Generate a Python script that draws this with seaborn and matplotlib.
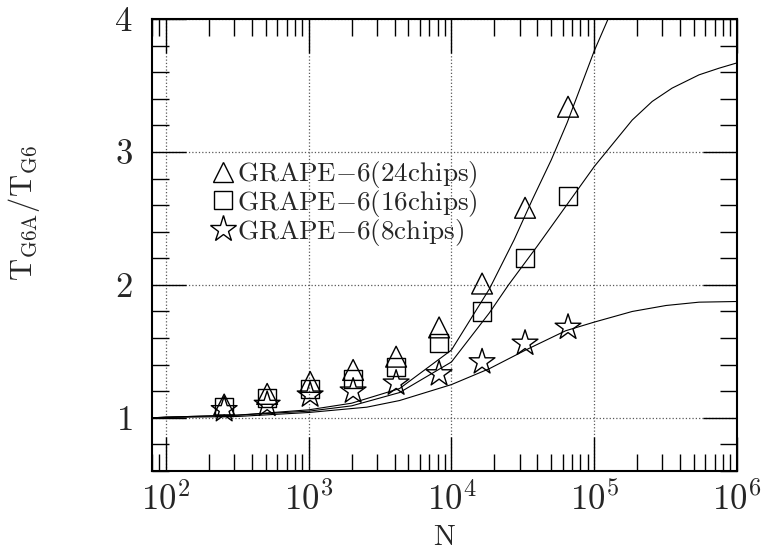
import matplotlib
matplotlib.use("Agg")
import matplotlib.pyplot as plt
import seaborn as sns
from matplotlib.lines import Line2D
from matplotlib.ticker import LogLocator, MultipleLocator, NullFormatter, FixedLocator

# medidas: numero de particulas y cociente de tiempos
n_medidas = [256, 512, 1024, 2048, 4096, 8192, 16384, 32768, 65536]
ratio_24 = [1.10, 1.18, 1.27, 1.36, 1.46, 1.68, 2.01, 2.58, 3.34]
ratio_16 = [1.08, 1.15, 1.22, 1.29, 1.385, 1.56, 1.80, 2.20, 2.67]
ratio_8 = [1.06, 1.10, 1.17, 1.20, 1.26, 1.33, 1.42, 1.56, 1.68]

# curvas del modelo
n_curva_24 = [80, 100, 316, 1000, 2000, 4330, 10000, 18450, 27500, 36800,
              50000, 64600, 100000, 125000, 158000]
curva_24 = [1.0, 1.005, 1.02, 1.06, 1.11, 1.22, 1.51, 1.97, 2.34, 2.64,
            2.94, 3.22, 3.76, 4.0, 4.26]

n_curva_16 = [80, 100, 316, 1000, 2000, 4330, 10000, 18450, 25100, 39800,
              63100, 100000, 184500, 254700, 350800, 542000, 748000, 1000000]
curva_16 = [1.0, 1.005, 1.02, 1.05, 1.09, 1.19, 1.42, 1.79, 2.00, 2.29,
            2.59, 2.89, 3.24, 3.38, 3.48, 3.58, 3.63, 3.67]

n_curva_8 = [80, 100, 316, 1000, 2550, 4330, 10000, 18450, 33100, 63100,
             100000, 184500, 318400, 542000, 1000000]
curva_8 = [1.0, 1.003, 1.01, 1.04, 1.08, 1.13, 1.25, 1.37, 1.51, 1.655,
           1.72, 1.80, 1.845, 1.87, 1.875]

etiquetas = ["GRAPE{-}6(24chips)", "GRAPE{-}6(16chips)", "GRAPE{-}6(8chips)"]

sns.set_style("ticks")
plt.rcParams["font.family"] = ["cmr10", "DejaVu Serif"]
plt.rcParams["mathtext.fontset"] = "cm"
plt.rcParams["axes.formatter.use_mathtext"] = True

fig = plt.figure(figsize=(7.64, 5.51), dpi=100)
ax = fig.add_axes([0.199, 0.1452, 0.7657, 0.8203])

for xs, ys in [(n_curva_24, curva_24), (n_curva_16, curva_16), (n_curva_8, curva_8)]:
    sns.lineplot(x=xs, y=ys, ax=ax, color="black", linewidth=0.8,
                 estimator=None, sort=False)

marcadores = [("^", 225, ratio_24), ("s", 170, ratio_16), ("*", 380, ratio_8)]
for m, s, ys in marcadores:
    sns.scatterplot(x=n_medidas, y=ys, ax=ax, marker=m, s=s,
                    facecolors="none", edgecolor="black", linewidth=1.0, zorder=3)

ax.set_xscale("log")
ax.set_xlim(80, 1e6)
ax.set_ylim(0.6, 4)

ax.xaxis.set_major_locator(LogLocator(base=10, numticks=10))
ax.xaxis.set_minor_locator(LogLocator(base=10, subs=range(2, 10), numticks=20))
ax.xaxis.set_minor_formatter(NullFormatter())
ax.yaxis.set_major_locator(FixedLocator([1, 2, 3, 4]))
ax.yaxis.set_minor_locator(MultipleLocator(0.2))

ax.tick_params(which="both", direction="in", top=True, right=True, width=1.0,
               labelsize=25, color="black")
ax.tick_params(which="major", length=24.5)
ax.tick_params(which="minor", length=12.5)
ax.tick_params(axis="y", pad=14)
ax.tick_params(axis="x", pad=8)

for sp in ax.spines.values():
    sp.set_linewidth(1.5)
    sp.set_color("black")

ax.grid(which="major", linestyle=":", color="0.35", linewidth=0.9)

ax.set_xlabel("N", fontsize=21)
ax.xaxis.set_label_coords(0.499, -0.118)
ax.xaxis.label.set_va("top")
ax.set_ylabel(r"$\mathrm{T_{G6A}/T_{G6}}$", fontsize=22)
ax.yaxis.set_label_coords(-0.188, 0.57)

handles = [Line2D([], [], marker=m, linestyle="", markerfacecolor="none",
                  markeredgecolor="black", markeredgewidth=1.0, markersize=s ** 0.5)
           for m, s, _ in marcadores]
ax.legend(handles, [r"$\mathrm{" + e + "}$" for e in etiquetas],
          loc="upper left", bbox_to_anchor=(0.1, 0.69), frameon=False,
          fontsize=19.5, handlelength=0.9, handletextpad=0.08, labelspacing=-0.08,
          borderpad=0, borderaxespad=0)

fig.savefig("out.png", dpi=100)
